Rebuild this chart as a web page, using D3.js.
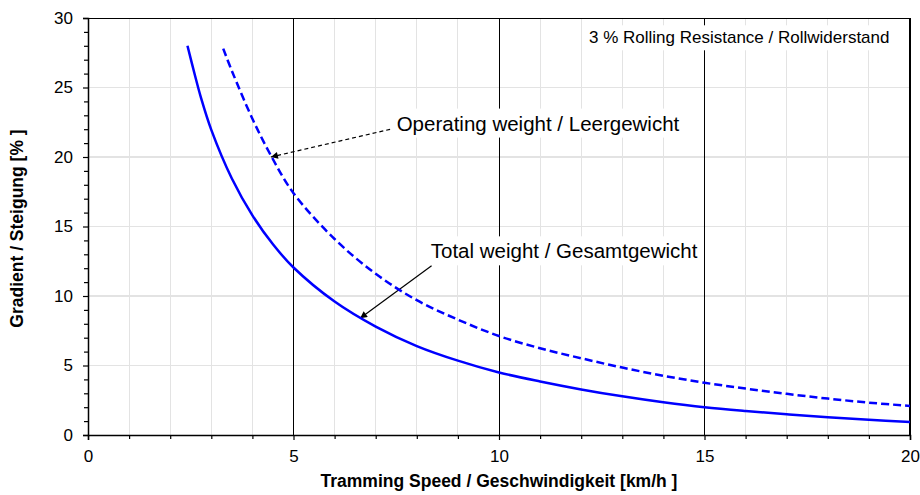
<!DOCTYPE html>
<html>
<head>
<meta charset="utf-8">
<script src="https://cdn.jsdelivr.net/npm/d3@7"></script>
<style>
  html, body { margin: 0; padding: 0; background: #fff; }
  svg { display: block; font-family: "Liberation Sans", Arial, sans-serif; }
</style>
</head>
<body>
<svg id="chart" width="920" height="495"></svg>
<script>
// ---- data ----
const speedTotal = [2.42, 2.6, 2.75, 3, 3.5, 4, 4.5, 5, 6, 7, 8, 9, 10, 11, 12, 13, 14, 15, 16, 17, 18, 19, 20];
const gradTotal  = [28.0, 25.9, 24.25, 21.95, 18.45, 15.8, 13.72, 12.05, 9.6, 7.8, 6.4, 5.35, 4.5, 3.85, 3.28, 2.78, 2.35, 1.99, 1.72, 1.49, 1.28, 1.1, 0.94];
const speedOper  = [3.29, 3.5, 4, 4.47, 5, 6, 7, 8, 9, 10, 11, 12, 13, 14, 15, 16, 17, 18, 19, 20];
const gradOper   = [27.8, 26.2, 22.75, 20.0, 17.4, 14.1, 11.6, 9.7, 8.3, 7.12, 6.24, 5.52, 4.85, 4.26, 3.76, 3.34, 2.96, 2.62, 2.33, 2.09];
const xTicks = [0, 5, 10, 15, 20];
const yTicks = [0, 5, 10, 15, 20, 25, 30];
const xTitle = "Tramming Speed / Geschwindigkeit [km/h ]";
const yTitle = "Gradient / Steigung [% ]";
const labelTexts = ["3 % Rolling Resistance / Rollwiderstand", "Operating weight / Leergewicht", "Total weight / Gesamtgewicht"];
const labelX = [12.19, 7.51, 8.34];
const labelY = [28.18, 21.9, 12.71];
const arrowFrom = [[7.35, 21.99], [8.36, 12.18]];
const arrowTo   = [[4.45, 20.0], [6.62, 8.4]];

// ---- layout ----
const svg = d3.select("#chart");
const L = 88, R = 910, T = 18, B = 435;
const x = d3.scaleLinear().domain([0, 20]).range([L, R]);
const y = d3.scaleLinear().domain([0, 30]).range([B, T]);

// light grid
const g = svg.append("g");
g.selectAll("line.vg").data(d3.range(1, 20).filter(v => v % 5 !== 0)).join("line")
  .attr("x1", d => x(d)).attr("x2", d => x(d)).attr("y1", T).attr("y2", B)
  .attr("stroke", "#e3e3e3").attr("stroke-width", 1).attr("shape-rendering", "crispEdges");
g.selectAll("line.hg").data([5, 10, 15, 20, 25]).join("line")
  .attr("x1", L).attr("x2", R).attr("y1", d => y(d)).attr("y2", d => y(d))
  .attr("stroke", "#e3e3e3").attr("stroke-width", 1.5).attr("shape-rendering", "crispEdges");
// major vertical lines
g.selectAll("line.mg").data([5, 10, 15]).join("line")
  .attr("x1", d => x(d)).attr("x2", d => x(d)).attr("y1", T).attr("y2", B)
  .attr("stroke", "#000").attr("stroke-width", 1).attr("shape-rendering", "crispEdges");

// frame top/right
svg.append("line").attr("x1", L).attr("x2", R).attr("y1", T).attr("y2", T)
  .attr("stroke", "#000").attr("stroke-width", 1).attr("shape-rendering", "crispEdges");
svg.append("line").attr("x1", R).attr("x2", R).attr("y1", T).attr("y2", B)
  .attr("stroke", "#000").attr("stroke-width", 2).attr("shape-rendering", "crispEdges");

// labels with white boxes
const lab = svg.append("g");
labelTexts.forEach((t, i) => {
  const fs = i === 0 ? 17 : 20.5;
  const txt = lab.append("text").attr("x", x(labelX[i])).attr("y", y(labelY[i]))
    .attr("font-size", fs).attr("fill", "#000").text(t);
  const bb = txt.node().getBBox();
  lab.insert("rect", "text").attr("x", bb.x - 5).attr("y", bb.y - 3)
    .attr("width", bb.width + 10).attr("height", bb.height + 6).attr("fill", "#fff");
});

// arrows
const defs = svg.append("defs");
defs.append("marker").attr("id", "ah").attr("viewBox", "0 0 10 10")
  .attr("refX", 10).attr("refY", 5).attr("markerWidth", 9).attr("markerHeight", 7)
  .attr("markerUnits", "userSpaceOnUse").attr("orient", "auto")
  .append("path").attr("d", "M0,0 L10,5 L0,10 Z").attr("fill", "#000");
arrowFrom.forEach((f, i) => {
  svg.append("line")
    .attr("x1", x(f[0])).attr("y1", y(f[1]))
    .attr("x2", x(arrowTo[i][0])).attr("y2", y(arrowTo[i][1]))
    .attr("stroke", "#000").attr("stroke-width", 1.2)
    .attr("stroke-dasharray", i === 0 ? "4,3" : null)
    .attr("marker-end", "url(#ah)");
});

// curves
const line = d3.line().x(d => x(d[0])).y(d => y(d[1])).curve(d3.curveCatmullRom.alpha(0.5));
svg.append("path").datum(d3.zip(speedTotal, gradTotal)).attr("d", line)
  .attr("fill", "none").attr("stroke", "#0000ff").attr("stroke-width", 2.5);
svg.append("path").datum(d3.zip(speedOper, gradOper)).attr("d", line)
  .attr("fill", "none").attr("stroke", "#0000ff").attr("stroke-width", 2.5)
  .attr("stroke-dasharray", "8,4");

// axes
const fontTick = 17;
const yAx = svg.append("g").attr("transform", `translate(${L},0)`)
  .call(d3.axisLeft(y).tickValues(yTicks).tickSize(5).tickPadding(10).tickFormat(d3.format("d")));
const yMinor = svg.append("g").attr("transform", `translate(${L},0)`)
  .call(d3.axisLeft(y).tickValues(d3.range(0, 31).filter(v => v % 5 !== 0)).tickSize(4).tickFormat(""));
const xAx = svg.append("g").attr("transform", `translate(0,${B})`)
  .call(d3.axisBottom(x).tickValues(xTicks).tickSize(5).tickPadding(10).tickFormat(d3.format("d")));
const xMinor = svg.append("g").attr("transform", `translate(0,${B})`)
  .call(d3.axisBottom(x).tickValues(d3.range(0, 21).filter(v => v % 5 !== 0)).tickSize(4).tickFormat(""));
[yAx, yMinor, xAx, xMinor].forEach(a => {
  a.select(".domain").attr("stroke", "#000").attr("stroke-width", 1.5);
  a.selectAll(".tick line").attr("stroke", "#000").attr("stroke-width", 1.2);
  a.selectAll(".tick text").attr("font-size", fontTick).attr("fill", "#000")
    .attr("font-family", "'Liberation Sans', Arial, sans-serif");
});
[yMinor, xMinor].forEach(a => a.select(".domain").remove());

// axis titles
svg.append("text").attr("x", (L + R) / 2).attr("y", 487).attr("text-anchor", "middle")
  .attr("font-size", 17.5).attr("font-weight", "bold").text(xTitle);
svg.append("text").attr("transform", `translate(23,${(T + B) / 2 + 2}) rotate(-90)`)
  .attr("text-anchor", "middle").attr("font-size", 17.5).attr("font-weight", "bold").text(yTitle);
</script>
</body>
</html>
